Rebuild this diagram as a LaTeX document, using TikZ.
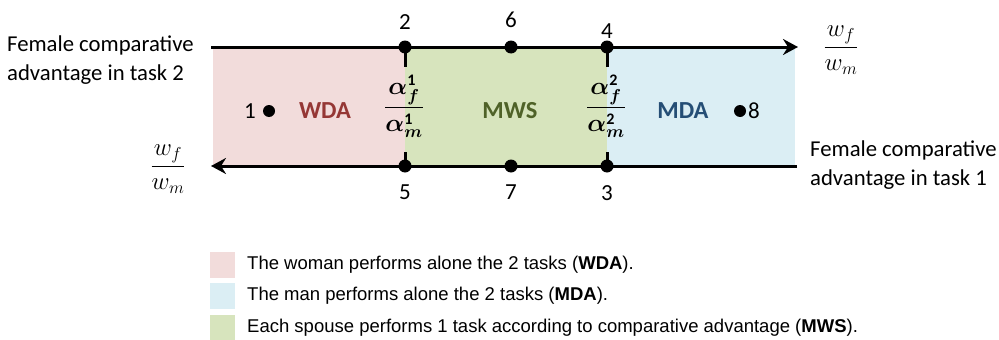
\documentclass[tikz,border=0pt]{standalone}
\usepackage{amsmath,bm}
\usepackage{fontspec}
\setmainfont{Carlito}
\newfontfamily\legfont{Liberation Sans}
\usetikzlibrary{arrows.meta}
\definecolor{wdafill}{HTML}{F2DCDB}
\definecolor{mwsfill}{HTML}{D7E4BD}
\definecolor{mdafill}{HTML}{DBEEF4}
\definecolor{wdatext}{HTML}{953735}
\definecolor{mwstext}{HTML}{4F6228}
\definecolor{mdatext}{HTML}{254E75}
\tikzset{
  axis/.style={line width=3pt},
  tip/.style={-{Stealth[length=15pt,width=16pt,inset=5pt]}},
  dot/.style={circle,fill=black,inner sep=0pt,minimum size=13pt},
  num/.style={inner sep=0pt,font=\fontsize{23}{27}\selectfont},
  side/.style={inner sep=0pt,align=left,anchor=west,font=\fontsize{22.7}{29}\selectfont},
  zone/.style={inner sep=0pt,font=\fontsize{24.5}{28}\selectfont\bfseries},
  frac/.style={inner sep=0pt,font=\fontsize{23}{27}\selectfont},
  legbox/.style={inner sep=0pt,minimum width=25pt,minimum height=26pt},
  legtext/.style={inner sep=0pt,anchor=west,font=\legfont\fontsize{18.5}{22}\selectfont},
}
\begin{document}
\begin{tikzpicture}[x=1pt,y=-1pt]
\useasboundingbox (0,0) rectangle (999,340);
% regions
\fill[wdafill] (213,47) rectangle (405,166);
\fill[mwsfill] (405,47) rectangle (607,166);
\fill[mdafill] (607,47) rectangle (795,166);
% axes
\coordinate (tl) at (211,47);
\coordinate (tr) at (798,47);
\coordinate (bl) at (211,166);
\coordinate (br) at (797,166);
\draw[axis,tip] (tl) -- (tr);
\draw[axis,tip] (br) -- (bl);
% dots on lines
\node[dot] (d2) at (405,47) {};
\node[dot] (d6) at (511,47) {};
\node[dot] (d4) at (607,47) {};
\node[dot] (d5) at (405,166) {};
\node[dot] (d7) at (511,166) {};
\node[dot] (d3) at (607,166) {};
% ticks
\coordinate (t2) at (405,67);
\coordinate (t5) at (405,152);
\coordinate (t4) at (607,67);
\coordinate (t3) at (607,152);
\draw[axis] (d2.center) -- (t2);
\draw[axis] (d5.center) -- (t5);
\draw[axis] (d4.center) -- (t4);
\draw[axis] (d3.center) -- (t3);
% numbers
\node[num] (n2) at (405,22) {2};
\node[num] (n6) at (511,20) {6};
\node[num] (n4) at (607,31) {4};
\node[num] (n5) at (405,192) {5};
\node[num] (n7) at (511,192) {7};
\node[num] (n3) at (607,193) {3};
% inner points
\node[dot,minimum size=12pt] (d1) at (269,111) {};
\node[num,anchor=east] (n1) at (256,111) {1};
\node[dot,minimum size=12pt] (d8) at (740,111) {};
\node[num,anchor=west] (n8) at (748,111) {8};
% zone labels
\node[zone,text=wdatext] (wda) at (325,111) {WDA};
\node[zone,text=mwstext] (mws) at (510,111) {MWS};
\node[zone,text=mdatext] (mda) at (683,111) {MDA};
% fractions
\node[frac] (f1) at (404,106) {$\dfrac{\bm{\alpha}_{\bm{f}}^{\mathbf{1}}}{\bm{\alpha}_{\bm{m}}^{\mathbf{1}}}$};
\node[frac] (f2) at (606,106) {$\dfrac{\bm{\alpha}_{\bm{f}}^{\mathbf{2}}}{\bm{\alpha}_{\bm{m}}^{\mathbf{2}}}$};
\node[frac] (wr) at (841,50) {$\dfrac{w_f}{w_m}$};
\node[frac] (wl) at (168,169) {$\dfrac{w_f}{w_m}$};
% side texts
\node[side] (ls) at (7,60) {Female comparative\\advantage in task 2};
\node[side] (rs) at (810,165) {Female comparative\\advantage in task 1};
% legend
\node[legbox,fill=wdafill] (lb1) at (222,265) {};
\node[legbox,fill=mdafill] (lb2) at (222,296) {};
\node[legbox,fill=mwsfill] (lb3) at (222,328) {};
\node[legtext] (lt1) at (247,265) {The woman performs alone the 2 tasks (\textbf{WDA}).};
\node[legtext] (lt2) at (247,296) {The man performs alone the 2 tasks (\textbf{MDA}).};
\node[legtext] (lt3) at (247,328) {Each spouse performs 1 task according to comparative advantage (\textbf{MWS}).};
\end{tikzpicture}
\end{document}
